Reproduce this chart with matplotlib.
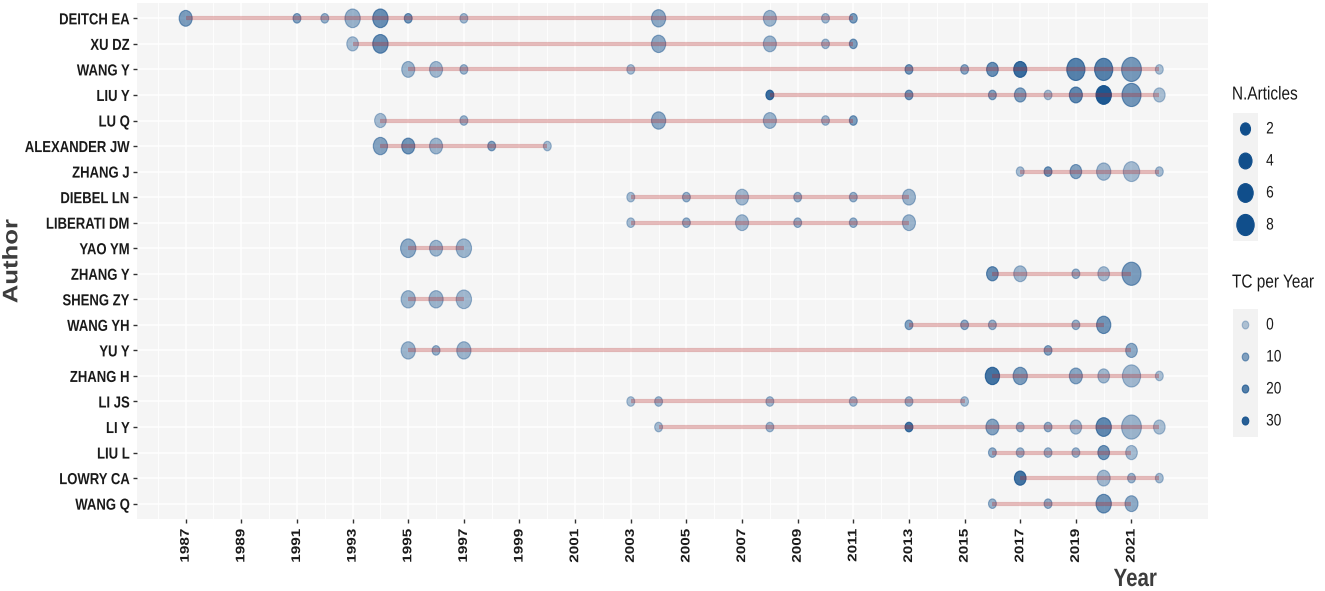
import numpy as np
import matplotlib
matplotlib.use("Agg")
import matplotlib.pyplot as plt
from matplotlib import font_manager
from matplotlib.path import Path
from matplotlib.patches import Rectangle
from matplotlib.patheffects import AbstractPathEffect
from matplotlib.transforms import Affine2D

# ---- data ----
authors = ["DEITCH EA", "XU DZ", "WANG Y", "LIU Y", "LU Q", "ALEXANDER JW",
           "ZHANG J", "DIEBEL LN", "LIBERATI DM", "YAO YM", "ZHANG Y",
           "SHENG ZY", "WANG YH", "YU Y", "ZHANG H", "LI JS", "LI Y",
           "LIU L", "LOWRY CA", "WANG Q"]

years = {
    "DEITCH EA": [1987, 1991, 1992, 1993, 1994, 1995, 1997, 2004, 2008, 2010, 2011],
    "XU DZ": [1993, 1994, 2004, 2008, 2010, 2011],
    "WANG Y": [1995, 1996, 1997, 2003, 2013, 2015, 2016, 2017, 2019, 2020, 2021, 2022],
    "LIU Y": [2008, 2013, 2016, 2017, 2018, 2019, 2020, 2021, 2022],
    "LU Q": [1994, 1997, 2004, 2008, 2010, 2011],
    "ALEXANDER JW": [1994, 1995, 1996, 1998, 2000],
    "ZHANG J": [2017, 2018, 2019, 2020, 2021, 2022],
    "DIEBEL LN": [2003, 2005, 2007, 2009, 2011, 2013],
    "LIBERATI DM": [2003, 2005, 2007, 2009, 2011, 2013],
    "YAO YM": [1995, 1996, 1997],
    "ZHANG Y": [2016, 2017, 2019, 2020, 2021],
    "SHENG ZY": [1995, 1996, 1997],
    "WANG YH": [2013, 2015, 2016, 2019, 2020],
    "YU Y": [1995, 1996, 1997, 2018, 2021],
    "ZHANG H": [2016, 2017, 2019, 2020, 2021, 2022],
    "LI JS": [2003, 2004, 2008, 2011, 2013, 2015],
    "LI Y": [2004, 2008, 2013, 2016, 2017, 2018, 2019, 2020, 2021, 2022],
    "LIU L": [2016, 2017, 2018, 2019, 2020, 2021],
    "LOWRY CA": [2017, 2020, 2021, 2022],
    "WANG Q": [2016, 2018, 2020, 2021],
}

articles = {
    "DEITCH EA": [4, 1, 1, 6, 6, 1, 1, 5, 4, 1, 1],
    "XU DZ": [3, 6, 5, 4, 1, 1],
    "WANG Y": [4, 4, 1, 1, 1, 1, 3, 4, 9, 9, 11, 1],
    "LIU Y": [1, 1, 1, 3, 1, 4, 6, 10, 3],
    "LU Q": [3, 1, 5, 4, 1, 1],
    "ALEXANDER JW": [5, 4, 4, 1, 1],
    "ZHANG J": [1, 1, 3, 5, 7, 1],
    "DIEBEL LN": [1, 1, 4, 1, 1, 4],
    "LIBERATI DM": [1, 1, 4, 1, 1, 4],
    "YAO YM": [6, 4, 6],
    "ZHANG Y": [3, 4, 1, 3, 10],
    "SHENG ZY": [5, 5, 6],
    "WANG YH": [1, 1, 1, 1, 5],
    "YU Y": [5, 1, 5, 1, 3],
    "ZHANG H": [5, 5, 4, 3, 9, 1],
    "LI JS": [1, 1, 1, 1, 1, 1],
    "LI Y": [1, 1, 1, 4, 1, 1, 3, 6, 11, 3],
    "LIU L": [1, 1, 1, 1, 3, 3],
    "LOWRY CA": [3, 4, 1, 1],
    "WANG Q": [1, 1, 6, 4],
}

tc_per_year = {
    "DEITCH EA": [12, 10, 6, 6, 16, 14, 4, 8, 5, 4, 12],
    "XU DZ": [3, 16, 8, 5, 4, 12],
    "WANG Y": [5, 4, 5, 3, 14, 9, 16, 26, 20, 20, 13, 2],
    "LIU Y": [26, 14, 10, 11, 3, 18, 32, 14, 2],
    "LU Q": [3, 5, 8, 5, 4, 12],
    "ALEXANDER JW": [10, 14, 5, 10, 3],
    "ZHANG J": [3, 14, 10, 4, 3, 3],
    "DIEBEL LN": [3, 6, 4, 6, 6, 5],
    "LIBERATI DM": [3, 6, 4, 6, 6, 5],
    "YAO YM": [8, 5, 5],
    "ZHANG Y": [16, 4, 6, 3, 12],
    "SHENG ZY": [5, 5, 4],
    "WANG YH": [10, 8, 6, 6, 14],
    "YU Y": [5, 6, 5, 10, 8],
    "ZHANG H": [24, 12, 9, 4, 4, 2],
    "LI JS": [2, 4, 4, 4, 5, 3],
    "LI Y": [3, 4, 24, 10, 7, 7, 4, 18, 5, 2],
    "LIU L": [7, 5, 5, 5, 14, 3],
    "LOWRY CA": [24, 4, 5, 3],
    "WANG Q": [6, 7, 14, 8],
}

size_legend = [2, 4, 6, 8]
tc_legend = [0, 10, 20, 30]
year_ticks = list(range(1987, 2022, 2))

# ---- style ----
names = {f.name for f in font_manager.fontManager.ttflist}
FONT = "Liberation Sans" if "Liberation Sans" in names else "DejaVu Sans"
plt.rcParams["font.family"] = [FONT, "DejaVu Sans"]

POINT = np.array([16, 78, 139]) / 255.0   # dodgerblue4
LINE = "#B22222"                          # firebrick
TC_MAX = 35.0
SQ = 0.82  # the reference is squeezed sideways by about this much

_c = Path.unit_circle()
ELLIPSE = Path(_c.vertices * np.array([SQ, 1.0]), _c.codes)


class Squeeze(AbstractPathEffect):
    """Squash text horizontally (in screen space) about one of its edges."""

    def __init__(self, sx=SQ, anchor="center"):
        super().__init__()
        self.sx = sx
        self.anchor = anchor

    def draw_path(self, renderer, gc, tpath, affine, rgbFace=None):
        ext = tpath.get_extents(affine)
        if self.anchor == "right":
            px = ext.x1
        elif self.anchor == "left":
            px = ext.x0
        else:
            px = 0.5 * (ext.x0 + ext.x1)
        t = affine + Affine2D().translate(-px, 0).scale(self.sx, 1).translate(px, 0)
        renderer.draw_path(gc, tpath, t, rgbFace)


def marker_area(n):
    h = (2.7 + 5.16 * np.sqrt(np.asarray(n, dtype=float))) / SQ  # px
    return (h * 0.72) ** 2


def point_rgba(tc):
    a = 0.3 + 0.7 * np.clip(np.asarray(tc, dtype=float) / TC_MAX, 0, 1)
    rgba = np.zeros((np.size(a), 4))
    rgba[:, :3] = POINT
    rgba[:, 3] = a
    return rgba


W, H = 1325, 591
fig = plt.figure(figsize=(W / 100, H / 100), dpi=100)
renderer = fig.canvas.get_renderer()
ax = fig.add_axes([137 / W, 1 - 519 / H, (1208 - 137) / W, (519 - 3) / H])
ax.set_facecolor("#F5F5F5")
for s in ax.spines.values():
    s.set_visible(False)

for i, name in enumerate(authors):
    yr = years[name]
    cols = point_rgba(tc_per_year[name])
    ax.scatter(yr, [i] * len(yr), s=marker_area(articles[name]), marker=ELLIPSE,
               facecolors=cols, edgecolors=cols, linewidths=0.8, zorder=3)
    ax.plot([min(yr), max(yr)], [i, i], color=LINE, alpha=0.3, lw=3,
            solid_capstyle="butt", zorder=4)

ax.set_xlim(1985.25, 2023.75)
ax.set_ylim(len(authors) - 0.4, -0.6)
ax.set_xticks(year_ticks)
ax.set_xticks(range(1986, 2024, 2), minor=True)
ax.set_yticks(range(len(authors)))
ax.set_yticklabels(authors)
ax.grid(True, which="major", color="white", lw=1.1, zorder=0)
ax.grid(True, which="minor", axis="x", color="white", lw=0.6, zorder=0)
ax.set_axisbelow(True)

ax.tick_params(axis="both", which="major", length=3, width=1, color="#333333",
               labelcolor="#1A1A1A")
ax.tick_params(axis="x", which="minor", length=0)
ax.tick_params(axis="y", pad=2, labelsize=11.5)
ax.tick_params(axis="x", pad=4, labelsize=11, labelrotation=90)
for t in ax.get_yticklabels():
    t.set_fontweight("bold")
    t.set_path_effects([Squeeze(anchor="right")])
for t in ax.get_xticklabels():
    t.set_fontweight("bold")
    t.set_path_effects([Squeeze(anchor="center")])

fig.text(12 / W, 1 - 261 / H, "Author", rotation=90, ha="center", va="center",
         fontsize=18.5, fontweight="bold", color="#3D3D3D",
         path_effects=[Squeeze(anchor="center")])
fig.text(1157 / W, 1 - 579 / H, "Year", ha="right", va="center",
         fontsize=18, fontweight="bold", color="#3D3D3D",
         path_effects=[Squeeze(anchor="right")])

# ---- legends, drawn in pixel space on an overlay ----
lax = fig.add_axes([0, 0, 1, 1], facecolor="none")
lax.set_xlim(0, W)
lax.set_ylim(H, 0)
lax.axis("off")

key_x0, key_w, key_h = 1233, 25, 32
lab_x = 1266
title_x = 1232


def draw_legend(title, title_y, top, values, sizes, colors):
    # right-anchored so the (squeezed) title starts at title_x and stays in the figure
    t = lax.text(title_x, title_y, title, ha="right", va="center", fontsize=13.5,
                 color="#1A1A1A", path_effects=[Squeeze(anchor="right")])
    wid = t.get_window_extent(renderer).width
    t.set_x(title_x + SQ * wid)
    lax.add_patch(Rectangle((key_x0, top), key_w, key_h * len(values),
                            facecolor="#F2F2F2", edgecolor="none"))
    ys = top + (np.arange(len(values)) + 0.5) * key_h
    lax.scatter([key_x0 + key_w / 2] * len(values), ys, s=sizes, marker=ELLIPSE,
                facecolors=colors, edgecolors=colors, linewidths=0.8)
    for v, y in zip(values, ys):
        lax.text(lab_x, y, str(v), ha="left", va="center", fontsize=12,
                 color="#1A1A1A", path_effects=[Squeeze(anchor="left")])


draw_legend("N.Articles", 95, 113, size_legend, marker_area(size_legend),
            np.tile(np.append(POINT, 1.0), (len(size_legend), 1)))
draw_legend("TC per Year", 283, 309, tc_legend, [(8 * 0.72) ** 2] * len(tc_legend),
            point_rgba(tc_legend))

fig.savefig("out.png", dpi=100)
